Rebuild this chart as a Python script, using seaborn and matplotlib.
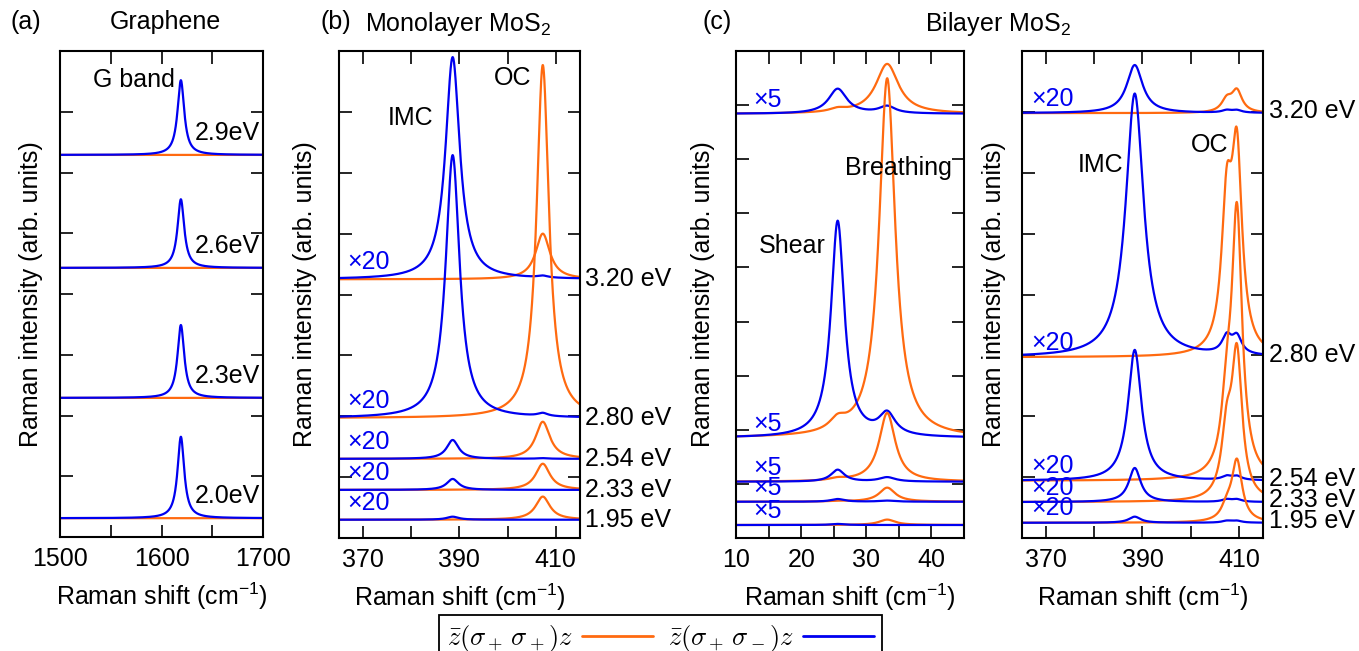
import numpy as np
import matplotlib
matplotlib.use("Agg")
import matplotlib.pyplot as plt
import matplotlib.transforms as mtransforms
from matplotlib.ticker import MultipleLocator, FixedLocator, NullFormatter
from matplotlib.lines import Line2D
import seaborn as sns

ORANGE = '#ff6a10'
BLUE = '#0000f0'

# --- (a) graphene: G band, only seen in sigma+ sigma- ---
gr_energy = ['2.9eV', '2.6eV', '2.3eV', '2.0eV']
gr_offset = [6.29, 4.43, 2.29, 0.31]
gr_g_height = [1.23, 1.13, 1.20, 1.34]      # blue
gr_same_height = [0.0, 0.0, 0.0, 0.0]       # orange
gr_g_pos, gr_g_fwhm = 1619.0, 8.0

# --- (b) monolayer MoS2 ---
ml_energy = ['3.20 eV', '2.80 eV', '2.54 eV', '2.33 eV', '1.95 eV']
ml_scale = ['×20', '×20', '×20', '×20', '×20']
ml_offset = [4.25, 1.97, 1.30, 0.79, 0.30]
ml_imc_height = [3.65, 4.32, 0.31, 0.18, 0.05]   # blue
ml_imc_leak = [0.03, 0.05, 0.01, 0.0, 0.0]      # blue at OC position
ml_oc_height = [0.75, 5.80, 0.61, 0.43, 0.38]    # orange
ml_imc_pos, ml_oc_pos = 388.6, 407.3
ml_imc_fwhm = [3.6, 3.5, 3.0, 3.0, 3.0]
ml_oc_fwhm = [3.6, 3.1, 3.6, 3.6, 3.6]

# --- (c) bilayer MoS2, low frequency ---
lf_scale = ['×5', '×5', '×5', '×5', '×5']
lf_offset = [7.84, 1.85, 1.04, 0.67, 0.24]
lf_shear_height = [0.46, 4.00, 0.22, 0.05, 0.02]     # blue
lf_shear_leak = [0.06, 0.20, 0.04, 0.01, 0.0]        # orange at shear
lf_breath_height = [0.92, 6.64, 1.27, 0.26, 0.10]    # orange
lf_breath_leak = [0.13, 0.40, 0.08, 0.02, 0.0]       # blue at breathing
lf_shear_pos, lf_breath_pos = 25.6, 33.2
lf_shear_fwhm = [3.4, 2.5, 2.5, 2.5, 2.5]
lf_breath_fwhm = [4.2, 3.0, 3.0, 3.0, 3.0]

# --- (c) bilayer MoS2, high frequency ---
hf_energy = ['3.20 eV', '2.80 eV', '2.54 eV', '2.33 eV', '1.95 eV']
hf_scale = ['×20', '×20', '×20', '×20', '×20']
hf_offset = [6.98, 2.97, 0.94, 0.59, 0.25]
hf_imc_height = [0.79, 4.33, 2.15, 0.56, 0.10]     # blue
hf_imc_fwhm = [4.0, 4.5, 3.4, 3.0, 3.0]
hf_blue_leak = [0.04, 0.28, 0.06, 0.04, 0.03]      # blue at OC doublet
hf_oc_height = [0.35, 3.13, 4.30, 2.33, 1.00]      # orange main
hf_oc_shoulder = [0.20, 2.28, 1.00, 1.00, 0.20]    # orange shoulder
hf_imc_pos, hf_oc_pos, hf_sh_pos = 388.4, 409.6, 407.5
hf_oc_fwhm = 2.6


def lorentz(x, pos, height, fwhm):
    return height / (1 + ((x - pos) / (fwhm / 2)) ** 2)


def draw(ax, x, y, color):
    sns.lineplot(x=x, y=y, color=color, lw=1.6, ax=ax, estimator=None, sort=False)


def style_axis(ax, xlim, xmajor, xminor, ytop, labelpad):
    ax.set_xlim(xlim)
    ax.set_ylim(0, ytop)
    ax.xaxis.set_major_locator(FixedLocator(xmajor))
    ax.xaxis.set_minor_locator(FixedLocator(xminor))
    ax.yaxis.set_major_locator(MultipleLocator(1))
    ax.yaxis.set_major_formatter(NullFormatter())
    ax.tick_params(which='both', direction='in', top=True, right=True,
                   length=9, width=1.2, labelsize=18, colors='black')
    ax.tick_params(axis='x', which='major', pad=7)
    for s in ax.spines.values():
        s.set_linewidth(1.5)
        s.set_color('black')
    ax.set_xlabel('Raman shift (cm$^{-1}$)', fontsize=18, labelpad=7)
    ax.set_ylabel('Raman intensity (arb. units)', fontsize=18, labelpad=labelpad)


sns.set_style("ticks", {"axes.edgecolor": "black", "text.color": "black",
                        "axes.labelcolor": "black", "xtick.color": "black",
                        "ytick.color": "black"})
plt.rcParams['font.family'] = ['Liberation Sans', 'DejaVu Sans']
plt.rcParams['mathtext.fontset'] = 'custom'
plt.rcParams['mathtext.rm'] = 'Liberation Sans'
plt.rcParams['mathtext.it'] = 'Liberation Sans:italic'

fig = plt.figure(figsize=(13.59, 6.51), dpi=100)
ax_a = fig.add_axes([0.0442, 0.1751, 0.1494, 0.7465])
ax_b = fig.add_axes([0.2494, 0.1736, 0.1773, 0.7480])
ax_c1 = fig.add_axes([0.5416, 0.1736, 0.1678, 0.7480])
ax_c2 = fig.add_axes([0.7520, 0.1736, 0.1773, 0.7480])

# --- (a) ---
x = np.linspace(1500, 1700, 1200)
for i in range(len(gr_energy)):
    off = gr_offset[i]
    draw(ax_a, x, off + lorentz(x, gr_g_pos, gr_same_height[i], gr_g_fwhm), ORANGE)
    draw(ax_a, x, off + lorentz(x, gr_g_pos, gr_g_height[i], gr_g_fwhm), BLUE)
    ax_a.text(1697, off + 0.17, gr_energy[i], ha='right', va='bottom', fontsize=18)
ax_a.text(1573, 7.52, 'G band', ha='center', va='center', fontsize=18)
style_axis(ax_a, (1500, 1700), [1500, 1600, 1700], [1550, 1650], 8, 9)

# --- (b) ---
x = np.linspace(365, 415, 1500)
tr_b = mtransforms.blended_transform_factory(ax_b.transAxes, ax_b.transData)
for i in range(len(ml_energy)):
    off = ml_offset[i]
    orange = off + lorentz(x, ml_oc_pos, ml_oc_height[i], ml_oc_fwhm[i])
    blue = (off + lorentz(x, ml_imc_pos, ml_imc_height[i], ml_imc_fwhm[i])
            + lorentz(x, ml_oc_pos, ml_imc_leak[i], 2.5))
    draw(ax_b, x, orange, ORANGE)
    draw(ax_b, x, blue, BLUE)
    ax_b.text(0.033, off + 0.08, ml_scale[i], color=BLUE, ha='left', va='bottom',
              fontsize=18, transform=tr_b)
    ax_b.text(1.02, off, ml_energy[i], ha='left', va='center', fontsize=18,
              transform=tr_b, clip_on=False)
ax_b.text(379.9, 6.9, 'IMC', ha='center', va='center', fontsize=18)
ax_b.text(401.1, 7.55, 'OC', ha='center', va='center', fontsize=18)
style_axis(ax_b, (365, 415), [370, 390, 410], [380, 400], 8, 12)

# --- (c) low frequency ---
x = np.linspace(10, 45, 1500)
tr_c1 = mtransforms.blended_transform_factory(ax_c1.transAxes, ax_c1.transData)
for i in range(len(lf_offset)):
    off = lf_offset[i]
    orange = (off + lorentz(x, lf_breath_pos, lf_breath_height[i], lf_breath_fwhm[i])
              + lorentz(x, lf_shear_pos, lf_shear_leak[i], 3.0))
    blue = (off + lorentz(x, lf_shear_pos, lf_shear_height[i], lf_shear_fwhm[i])
            + lorentz(x, lf_breath_pos, lf_breath_leak[i], 3.0))
    draw(ax_c1, x, orange, ORANGE)
    draw(ax_c1, x, blue, BLUE)
    ax_c1.text(0.075, off + 0.03, lf_scale[i], color=BLUE, ha='left', va='bottom',
               fontsize=18, transform=tr_c1)
ax_c1.text(18.6, 5.4, 'Shear', ha='center', va='center', fontsize=18)
ax_c1.text(34.9, 6.84, 'Breathing', ha='center', va='center', fontsize=18)
style_axis(ax_c1, (10, 45), [10, 20, 30, 40], [15, 25, 35], 9, 12)

# --- (c) high frequency ---
x = np.linspace(365, 415, 1500)
tr_c2 = mtransforms.blended_transform_factory(ax_c2.transAxes, ax_c2.transData)
for i in range(len(hf_energy)):
    off = hf_offset[i]
    orange = (off + lorentz(x, hf_oc_pos, hf_oc_height[i], hf_oc_fwhm)
              + lorentz(x, hf_sh_pos, hf_oc_shoulder[i], hf_oc_fwhm))
    blue = (off + lorentz(x, hf_imc_pos, hf_imc_height[i], hf_imc_fwhm[i])
            + lorentz(x, hf_sh_pos, hf_blue_leak[i], 2.4)
            + lorentz(x, hf_oc_pos, hf_blue_leak[i], 2.4))
    draw(ax_c2, x, orange, ORANGE)
    draw(ax_c2, x, blue, BLUE)
    ax_c2.text(0.04, off + 0.04, hf_scale[i], color=BLUE, ha='left', va='bottom',
               fontsize=18, transform=tr_c2)
    ax_c2.text(1.025, off + 0.03, hf_energy[i], ha='left', va='center', fontsize=18,
               transform=tr_c2, clip_on=False)
ax_c2.text(381.4, 6.12, 'IMC', ha='center', va='center', fontsize=18)
ax_c2.text(404.0, 6.45, 'OC', ha='center', va='center', fontsize=18)
style_axis(ax_c2, (365, 415), [370, 390, 410], [380, 400], 8, 8)

# --- panel headings ---
fig.text(0.0074, 0.966, '(a)', ha='left', va='center', fontsize=18)
fig.text(0.1214, 0.966, 'Graphene', ha='center', va='center', fontsize=18)
fig.text(0.2355, 0.966, '(b)', ha='left', va='center', fontsize=18)
fig.text(0.2686, 0.963, 'Monolayer MoS$_2$', ha='left', va='center', fontsize=18)
fig.text(0.517, 0.966, '(c)', ha='left', va='center', fontsize=18)
fig.text(0.6807, 0.963, 'Bilayer MoS$_2$', ha='left', va='center', fontsize=18)

# --- legend ---
handles = [Line2D([], [], color=ORANGE, lw=2), Line2D([], [], color=BLUE, lw=2)]
labels = [r'$\bar{z}(\sigma_+\,\sigma_+)z$', r'$\bar{z}(\sigma_+\,\sigma_-)z$']
leg = fig.legend(handles, labels, loc='upper center', bbox_to_anchor=(0.486, 0.0553),
                 ncol=2, markerfirst=False, fontsize=19, handlelength=2.7,
                 columnspacing=0.55, handletextpad=0.35, borderpad=0.3,
                 borderaxespad=0, fancybox=False, edgecolor='black', framealpha=1)
leg.get_frame().set_linewidth(1.3)
for t in leg.get_texts():
    t.set_math_fontfamily('cm')

fig.savefig('out.png', dpi=100)
